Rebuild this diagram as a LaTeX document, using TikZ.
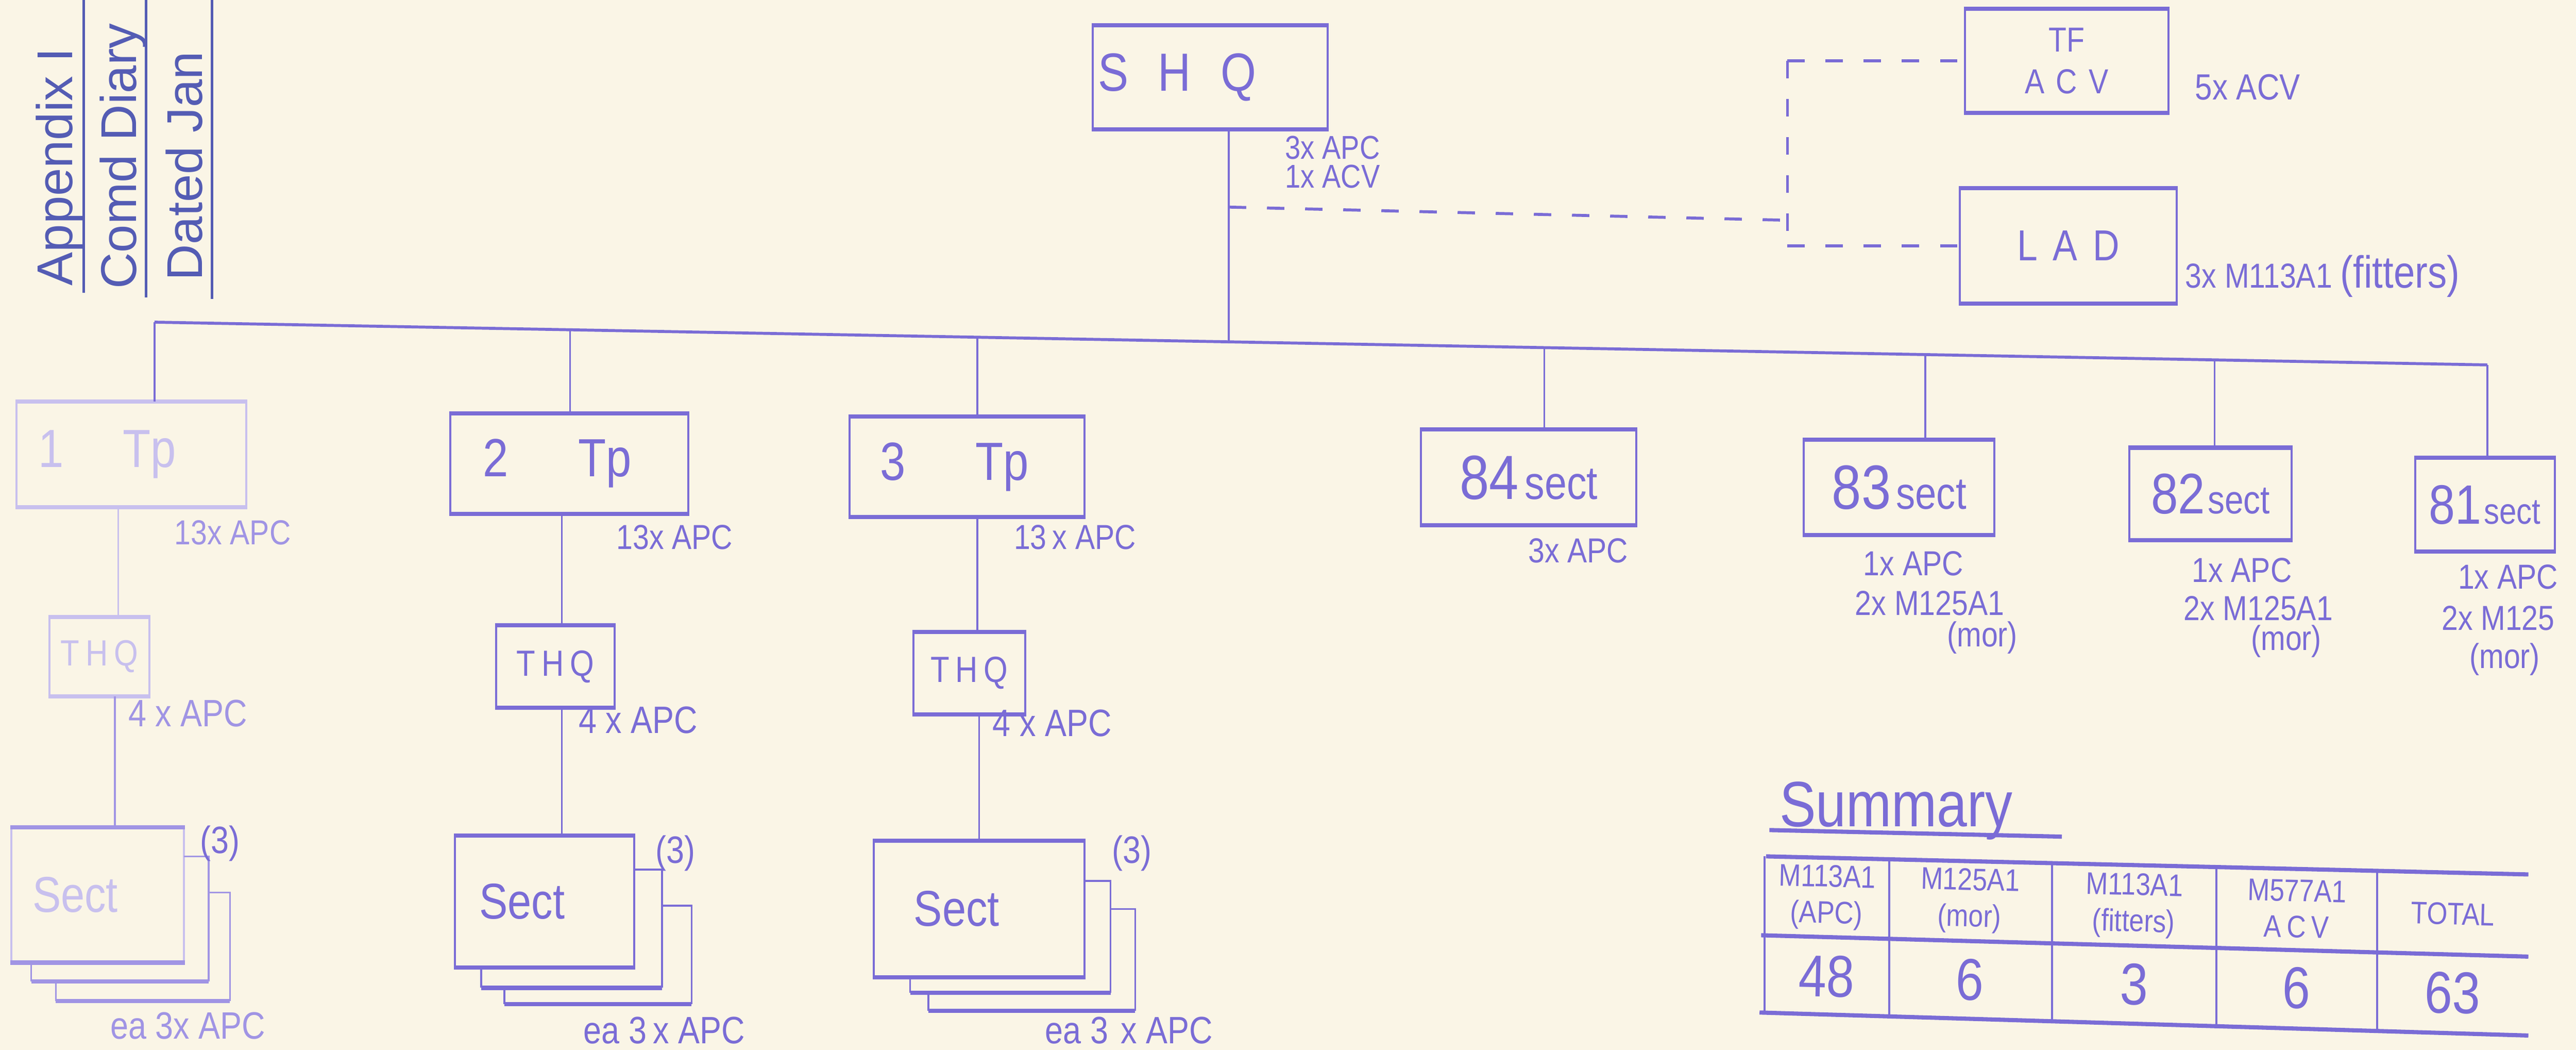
\documentclass[tikz,border=0pt]{standalone}
\usepackage{fontspec}
\setmainfont{Liberation Sans}
\newfontfamily\hand[FakeStretch=0.85]{Liberation Sans}
\usetikzlibrary{calc}
\definecolor{ink}{RGB}{122,108,214}
\definecolor{inkmid}{RGB}{160,148,228}
\definecolor{faded}{RGB}{200,192,238}
\definecolor{ttlc}{RGB}{84,92,180}
\definecolor{paper}{RGB}{250,245,230}
\newcommand\fs[1]{\fontsize{#1}{#1}\selectfont}
\newcommand\hedges[2][ink]{\draw[line width=2.4pt,#1] (#2.north west)--(#2.north east) (#2.south west)--(#2.south east);}
\begin{document}
\begin{tikzpicture}[x=0.03331cm,y=-0.03331cm,
  bx/.style 2 args={draw=ink, line width=1.2pt, inner sep=0pt, text=ink, align=center,
     minimum width=#1*0.9478pt, minimum height=#2*0.9478pt},
  conn/.style={draw=ink, line width=1.1pt},
  bar/.style={draw=ink, line width=1.7pt},
  hedge/.style={draw=ink, line width=2.4pt},
  dsh/.style={draw=ink, line width=1.7pt, dash pattern=on 10pt off 12pt},
  lbl/.style={text=ink, inner sep=0pt, font=\hand\fs{20}},
  ttl/.style={text=ttlc, inner sep=0pt, font=\fs{29}},
  cell/.style={text=ink, inner sep=0pt, align=center, rotate=-1.4, font=\hand\fontsize{18}{21}\selectfont},
  val/.style={text=ink, inner sep=0pt, rotate=-1.4, font=\hand\fs{34}}]
\useasboundingbox (0,0) rectangle (1568,638.8);
\clip (0,0) rectangle (1568,638.8);
\fill[paper] (0,0) rectangle (1568,638.8);

% ---------- title block ----------
\node[ttl, rotate=90, anchor=base west] (app) at (44,174) {Appendix I};
\node[ttl, rotate=90, anchor=base west] (comd) at (83,176) {Comd Diary};
\node[ttl, rotate=90, anchor=base west] (dated) at (123,171) {Dated Jan};
\draw[ttlc, line width=1.4pt] (51,0) -- (51,178) (89,0) -- (89,181) (129,0) -- (129,182);

% ---------- top ----------
\node[bx={143}{62}, font=\hand\fs{31}] (shq) at (736.5,47) {S\hspace{0.55em}H\hspace{0.55em}Q\hspace*{38pt}};
\hedges{shq}
\node[lbl, anchor=west, font=\hand\fs{19}] (lshqa) at (782,90) {3x APC};
\node[lbl, anchor=west, font=\hand\fs{19}] (lshqb) at (782,107.5) {1x ACV};

\node[bx={124}{62}, font=\hand\fontsize{20}{24}\selectfont] (tf) at (1258,37) {TF\\A\,\,C\,\,V};
\hedges{tf}
\node[lbl, anchor=west, font=\hand\fs{21}] (ltf) at (1336,53) {5x ACV};
\node[bx={132}{69}, font=\hand\fs{25}] (lad) at (1259,149.5) {L\hspace{0.35em}A\hspace{0.35em}D};
\hedges{lad}
\node[lbl, anchor=west] (llad) at (1330,168) {3x M113A1 {\fs{26}(fitters)}};

\coordinate (d0) at (748,126);
\coordinate (dj) at (1088,134);
\draw[dsh] (d0) -- (dj);
\draw[dsh] (tf.west -| dj) -- (lad.west -| dj);
\draw[dsh] (tf.west -| dj) -- (tf.west);
\draw[dsh] (lad.west -| dj) -- (lad.west);

% ---------- bar ----------
\coordinate (b1) at (94,196);
\coordinate (b2) at (347,200.6);
\coordinate (b3) at (595,205.2);
\coordinate (bS) at (748,208);
\coordinate (b84) at (940,211.5);
\coordinate (b83) at (1172,215.7);
\coordinate (b82) at (1348,219);
\coordinate (b81) at (1514,222);
\draw[bar] (b1) -- (b81);
\draw[conn] (shq.south -| bS) -- (bS);

% ---------- troops ----------
\node[bx={140}{63}, draw=faded, text=faded, font=\hand\fs{31}] (tp1) at (80,276.5) {1\hspace{1.1em}Tp\hspace*{28pt}};
\hedges[faded]{tp1}
\node[bx={145}{60}, font=\hand\fs{31}] (tp2) at (346.5,282) {2\hspace{1.3em}Tp\hspace*{14pt}};
\hedges{tp2}
\node[bx={143}{60}, font=\hand\fs{31}] (tp3) at (588.5,284) {3\hspace{1.3em}Tp\hspace*{14pt}};
\hedges{tp3}
\draw[conn] (b1) -- (b1 |- tp1.north);
\draw[conn] (b2) -- (b2 |- tp2.north);
\draw[conn] (b3) -- (b3 |- tp3.north);

\node[lbl, text=inkmid, anchor=west] (l1) at (106,324) {13x APC};
\node[lbl, anchor=west] (l2) at (375,327) {13x APC};
\node[lbl, anchor=west] (l3) at (617,327) {13\,x APC};

\node[bx={61}{47}, draw=faded, text=faded, font=\hand\fs{21}] (thq1) at (60.5,399.5) {T\,H\,Q};
\hedges[faded]{thq1}
\node[bx={72}{49}, font=\hand\fs{21}] (thq2) at (338,405.5) {T\,H\,Q};
\hedges{thq2}
\node[bx={68}{49}, font=\hand\fs{21}] (thq3) at (590,409.5) {T\,H\,Q};
\hedges{thq3}
\draw[conn, faded] (tp1.south -| 72,0) -- (thq1.north -| 72,0);
\draw[conn] (tp2.south -| 342,0) -- (thq2.north -| 342,0);
\draw[conn] (tp3.south -| 595,0) -- (thq3.north -| 595,0);

\node[lbl, text=inkmid, anchor=west, font=\hand\fs{22}] (m1) at (78,434) {4 x APC};
\node[lbl, anchor=west, font=\hand\fs{22}] (m2) at (352,438) {4 x APC};
\node[lbl, anchor=west, font=\hand\fs{22}] (m3) at (604,440) {4 x APC};

% ---------- sections under troops ----------
\node[bx={105}{81}, draw=faded, text=faded, font=\hand\fs{29}] (sc1) at (59.5,544.5) {Sect\hspace*{26pt}};
\hedges[inkmid]{sc1}
\node[bx={109}{79}, font=\hand\fs{29}] (sc2) at (331.5,548.5) {Sect\hspace*{26pt}};
\hedges{sc2}
\node[bx={128}{82}, font=\hand\fs{29}] (sc3) at (596,553) {Sect\hspace*{26pt}};
\hedges{sc3}
\draw[conn, inkmid] (thq1.south -| 70,0) -- (sc1.north -| 70,0);
\draw[conn] (thq2.south -| 342,0) -- (sc2.north -| 342,0);
\draw[conn] (thq3.south -| 596,0) -- (sc3.north -| 596,0);

% stacked copies
\draw[conn, inkmid] (112,521) -- (127,521) -- (127,597) (19,585) -- (19,597);
\draw[hedge, inkmid] (19,597) -- (127,597);
\draw[conn, inkmid] (127,543) -- (140,543) -- (140,609) (34,597) -- (34,609);
\draw[hedge, inkmid] (34,609) -- (140,609);
\draw[conn] (386,529) -- (403,529) -- (403,601) (293,588) -- (293,601);
\draw[hedge] (293,601) -- (403,601);
\draw[conn] (403,551) -- (421,551) -- (421,611) (307,601) -- (307,611);
\draw[hedge] (307,611) -- (421,611);
\draw[conn] (660,536) -- (676,536) -- (676,604) (554,594) -- (554,604);
\draw[hedge] (554,604) -- (676,604);
\draw[conn] (676,553) -- (691,553) -- (691,615) (565,604) -- (565,615);
\draw[hedge] (565,615) -- (691,615);

\node[lbl, font=\hand\fs{22}] (n1) at (134,513) {(3)};
\node[lbl, font=\hand\fs{22}] (n2) at (411,519) {(3)};
\node[lbl, font=\hand\fs{22}] (n3) at (689,519) {(3)};
\node[lbl, text=inkmid, anchor=west, font=\hand\fs{22}] (e1) at (67,624) {ea 3x APC};
\node[lbl, anchor=west, font=\hand\fs{22}] (e2) at (355,627) {ea 3\,x APC};
\node[lbl, anchor=west, font=\hand\fs{22}] (e3) at (636,627) {ea 3\,\,x APC};

% ---------- right sections ----------
\node[bx={131}{57}] (s84) at (930.5,290.5) {{\hand\fs{36}84}\hspace{0.35em}{\hand\fs{27}sect}};
\hedges{s84}
\node[bx={116}{57}] (s83) at (1156,296.5) {{\hand\fs{36}83}\hspace{0.3em}{\hand\fs{26}sect}};
\hedges{s83}
\node[bx={99}{55}] (s82) at (1345.5,300.5) {{\hand\fs{33}82}\hspace{0.15em}{\hand\fs{23}sect}};
\hedges{s82}
\node[bx={85}{56}] (s81) at (1512.5,307) {{\hand\fs{32}81}\hspace{0.15em}{\hand\fs{21}sect}};
\hedges{s81}
\draw[conn] (b84) -- (b84 |- s84.north);
\draw[conn] (b83) -- (b83 |- s83.north);
\draw[conn] (b82) -- (b82 |- s82.north);
\draw[conn] (b81) -- (b81 |- s81.north);

\node[lbl, anchor=west] (l84) at (930,335) {3x APC};
\node[lbl, anchor=west] (l83a) at (1134,343) {1x APC};
\node[lbl, anchor=west] (l83b) at (1129,367) {2x M125A1};
\node[lbl, anchor=west] (l83c) at (1185,388) {(mor)};
\node[lbl, anchor=west] (l82a) at (1334,347) {1x APC};
\node[lbl, anchor=west] (l82b) at (1329,370) {2x M125A1};
\node[lbl, anchor=west] (l82c) at (1370,390) {(mor)};
\node[lbl, anchor=west] (l81a) at (1496,351) {1x APC};
\node[lbl, anchor=west] (l81b) at (1486,376) {2x M125};
\node[lbl, anchor=west] (l81c) at (1503,401) {(mor)};

% ---------- summary ----------
\node[lbl, anchor=base west, font=\hand\fs{37}] (sum) at (1083,503) {Summary};
\draw[hedge] (1077,505) -- (1255,509);

\draw[hedge] (1075,521) -- (1539,532);
\draw[hedge] (1072,569) -- (1539,582);
\draw[hedge] (1071,616) -- (1539,630);
\draw[conn, line width=1.3pt] (1074,521) -- (1074,616.1);
\draw[conn, line width=1.3pt] (1150,522.8) -- (1150,618.4);
\draw[conn, line width=1.3pt] (1249,525.1) -- (1249,621.3);
\draw[conn, line width=1.3pt] (1349,527.5) -- (1349,624.3);
\draw[conn, line width=1.3pt] (1447,529.8) -- (1447,627.2);

\node[cell] (h1) at (1112,546) {M113A1\\(APC)};
\node[cell] (h2) at (1199,548) {M125A1\\(mor)};
\node[cell] (h3) at (1299,551) {M113A1\\(fitters)};
\node[cell] (h4) at (1398,553) {M577A1\\A\,C\,V};
\node[cell] (h5) at (1493,556) {TOTAL};
\node[val] (v1) at (1112,594) {48};
\node[val] (v2) at (1199,596) {6};
\node[val] (v3) at (1299,599) {3};
\node[val] (v4) at (1398,601) {6};
\node[val] (v5) at (1493,604) {63};
\end{tikzpicture}
\end{document}
